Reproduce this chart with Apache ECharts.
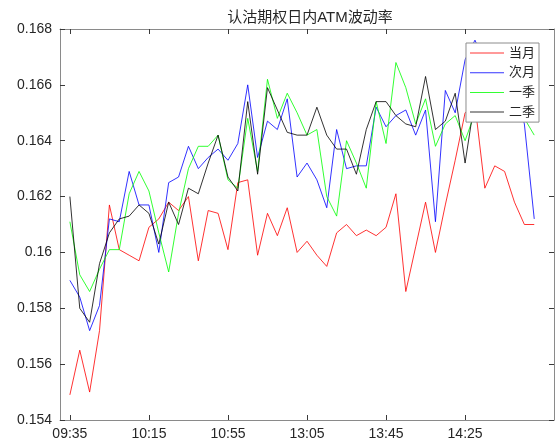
<!DOCTYPE html>
<html>
<head>
<meta charset="utf-8">
<script src="https://cdn.jsdelivr.net/npm/echarts@6/dist/echarts.min.js"></script>
<style>
html,body{margin:0;padding:0;background:#fff;}
#chart{width:556px;height:446px;}
</style>
</head>
<body>
<div id="chart"></div>
<script>
// Tick positions (point index) and tick labels
const xTickPos = [0, 8, 16, 24, 32, 40];
const xTickLabels = ['09:35', '10:15', '10:55', '13:05', '13:45', '14:25'];

// Series names
const seriesNames = ['当月', '次月', '一季', '二季'];

// 当月
const dangyue = [0.1549,0.1565,0.1550,0.1572,0.1617,0.1601,0.1599,0.1597,0.1609,0.1612,
  0.1618,0.1615,0.1620,0.1597,0.1615,0.1614,0.1601,0.1625,0.1626,0.1599,
  0.1614,0.1606,0.1616,0.1600,0.1604,0.1599,0.1595,0.1607,0.1610,0.1606,
  0.1608,0.1606,0.1609,0.1621,0.1586,0.1602,0.1618,0.1600,0.1617,0.1633,
  0.1650,0.1653,0.1623,0.1631,0.1629,0.1618,0.1610,0.1610];
// 次月
const ciyue = [0.1590,0.1584,0.1572,0.1581,0.1612,0.1611,0.1629,0.1617,0.1617,0.1600,
  0.1625,0.1627,0.1638,0.1630,0.1634,0.1637,0.1633,0.1639,0.1660,0.1634,
  0.1647,0.1644,0.1655,0.1627,0.1632,0.1626,0.1616,0.1644,0.1630,0.1631,
  0.1631,0.1652,0.1645,0.1649,0.1651,0.1642,0.1651,0.1611,0.1658,0.1650,
  0.1669,0.1676,0.1668,0.1665,0.1663,0.1660,0.1646,0.1612];
// 一季
const yiji = [0.1611,0.1592,0.1586,0.1594,0.1601,0.1601,0.1621,0.1629,0.1622,0.1607,
  0.1593,0.1614,0.1630,0.1638,0.1638,0.1642,0.1626,0.1623,0.1648,0.1629,
  0.1662,0.1648,0.1657,0.1650,0.1642,0.1644,0.1620,0.1613,0.1640,0.1632,
  0.1623,0.1654,0.1639,0.1668,0.1659,0.1646,0.1655,0.1638,0.1646,0.1649,
  0.1640,0.1650,0.1655,0.1652,0.1660,0.1655,0.1648,0.1642];
// 二季
const erji = [0.1620,0.1580,0.1575,0.1596,0.1607,0.1612,0.1613,0.1617,0.1614,0.1603,
  0.1618,0.1610,0.1623,0.1621,0.1632,0.1642,0.1627,0.1622,0.1654,0.1628,
  0.1659,0.1651,0.1643,0.1642,0.1642,0.1652,0.1642,0.1637,0.1637,0.1628,
  0.1644,0.1654,0.1654,0.1649,0.1646,0.1645,0.1663,0.1644,0.1647,0.1657,
  0.1632,0.1655,0.1655,0.1660,0.1658,0.1655,0.1652,0.1650];

const seriesData = [dangyue, ciyue, yiji, erji];
const seriesColors = ['#ff0000', '#0000ff', '#00ff00', '#000000'];

const FONT = "'Liberation Sans', 'Noto Sans CJK SC', sans-serif";
const AX = '#8a8a8a';
const TK = '#3a3a3a';

const chart = echarts.init(document.getElementById('chart'), null, {renderer: 'canvas'});

function xAxisDef(pos, showLabel) {
  return {
    type: 'value', position: pos, min: -1, max: 49,
    splitLine: {show: false},
    axisLine: {show: true, onZero: false, lineStyle: {color: AX, width: 1}},
    axisTick: {show: true, inside: true, length: 5, customValues: xTickPos, lineStyle: {color: TK}},
    axisLabel: {show: showLabel, customValues: xTickPos, margin: 7, fontSize: 14, color: '#262626', fontFamily: FONT,
      formatter: v => { const k = xTickPos.indexOf(Math.round(v)); return k >= 0 ? xTickLabels[k] : ''; }}
  };
}
function yAxisDef(pos, showLabel) {
  return {
    type: 'value', position: pos, min: 0.154, max: 0.168, interval: 0.002,
    splitLine: {show: false},
    axisLine: {show: true, onZero: false, lineStyle: {color: AX, width: 1}},
    axisTick: {show: true, inside: true, length: 5, lineStyle: {color: TK}},
    axisLabel: {show: showLabel, margin: 8, fontSize: 14, color: '#262626', fontFamily: FONT,
      formatter: v => parseFloat(v.toFixed(3)).toString()}
  };
}

chart.setOption({
  animation: false,
  backgroundColor: '#ffffff',
  title: {
    text: '认沽期权日内ATM波动率',
    left: 305, top: 5, textAlign: 'center',
    textStyle: {fontSize: 15, fontWeight: 'normal', color: '#262626', fontFamily: FONT}
  },
  grid: {left: 60, right: 2, top: 29, bottom: 26, containLabel: false},
  legend: {
    orient: 'vertical', right: 17, top: 43,
    backgroundColor: '#ffffff', borderColor: '#8c8c8c', borderWidth: 1,
    padding: [3, 4, 3, 4], itemWidth: 34, itemHeight: 1, itemGap: 5.7,
    icon: 'rect',
    textStyle: {fontSize: 13, color: '#262626', fontFamily: FONT, lineHeight: 14, height: 14},
    data: seriesNames.map((n, s) => ({name: n, itemStyle: {color: seriesColors[s], opacity: 0.8}}))
  },
  xAxis: [xAxisDef('bottom', true), xAxisDef('top', false)],
  yAxis: [yAxisDef('left', true), yAxisDef('right', false)],
  series: seriesNames.map((name, s) => ({
    name: name, type: 'line', xAxisIndex: 0, yAxisIndex: 0,
    symbol: 'none', showSymbol: false,
    lineStyle: {width: 1, color: seriesColors[s], opacity: 0.8},
    itemStyle: {color: seriesColors[s]},
    data: seriesData[s].map((v, i) => [i, v])
  }))
});
</script>
</body>
</html>
